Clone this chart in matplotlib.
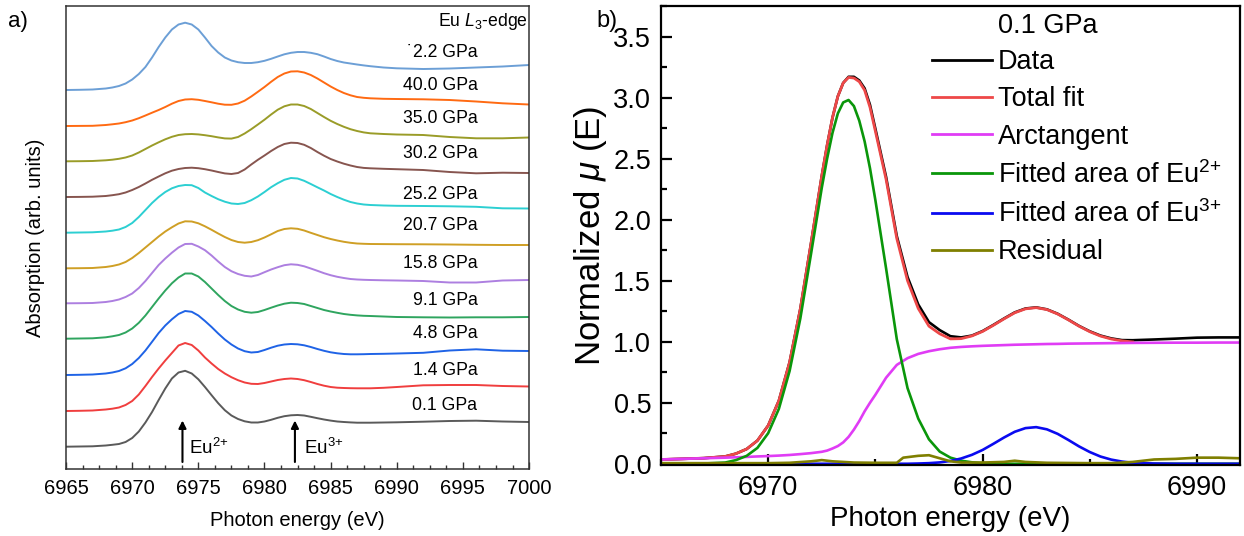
import matplotlib
matplotlib.use('Agg')
import matplotlib.pyplot as plt
from matplotlib.ticker import MultipleLocator

plt.rcParams['font.family'] = ['Liberation Sans', 'DejaVu Sans']
plt.rcParams['mathtext.fontset'] = 'custom'
plt.rcParams['mathtext.rm'] = 'Liberation Sans'
plt.rcParams['mathtext.it'] = 'Liberation Sans:italic'

# ---- panel a: stacked Eu L3-edge spectra (arb. units, offsets included) ----
energy_a = [6965, 6966, 6967, 6968, 6968.5, 6969, 6969.5, 6970, 6970.5, 6971,
            6971.5, 6972, 6972.5, 6973, 6973.5, 6974, 6974.5, 6975, 6975.5, 6976,
            6976.5, 6977, 6977.5, 6978, 6978.5, 6979, 6979.5, 6980, 6980.5, 6981,
            6981.5, 6982, 6982.5, 6983, 6983.5, 6984, 6984.5, 6985, 6985.5, 6986,
            6986.5, 6987, 6987.5, 6988, 6989, 6990, 6992, 6994, 6996, 6998,
            7000]

mu_0p1 = [2.23, 2.25, 2.27, 2.35, 2.42, 2.5, 2.7, 3.1, 3.75, 4.65,
          5.7, 6.9, 8.05, 9.05, 9.65, 9.82, 9.55, 8.97, 8.2, 7.38,
          6.58, 5.88, 5.35, 5.0, 4.77, 4.65, 4.65, 4.75, 4.92, 5.12,
          5.28, 5.37, 5.4, 5.35, 5.22, 5.08, 4.95, 4.84, 4.75, 4.7,
          4.66, 4.63, 4.63, 4.63, 4.65, 4.67, 4.73, 4.8, 4.83, 4.75,
          4.7]
mu_1p4 = [5.8, 5.82, 5.85, 5.95, 6.03, 6.15, 6.4, 6.8, 7.45, 8.3,
          9.2, 10.05, 10.85, 11.6, 12.35, 12.6, 12.4, 11.85, 11.15, 10.55,
          10.0, 9.55, 9.18, 8.88, 8.65, 8.52, 8.5, 8.6, 8.75, 8.9,
          9.0, 9.05, 9.0, 8.88, 8.7, 8.5, 8.33, 8.2, 8.13, 8.1,
          8.08, 8.07, 8.07, 8.07, 8.12, 8.2, 8.37, 8.4, 8.4, 8.3,
          8.25]
mu_4p8 = [9.4, 9.42, 9.45, 9.55, 9.65, 9.8, 10.07, 10.5, 11.1, 11.85,
          12.72, 13.6, 14.35, 14.97, 15.5, 15.8, 15.72, 15.35, 14.8, 14.2,
          13.55, 12.95, 12.45, 12.05, 11.78, 11.65, 11.7, 11.9, 12.13, 12.33,
          12.45, 12.5, 12.47, 12.37, 12.2, 12.0, 11.82, 11.67, 11.57, 11.5,
          11.47, 11.47, 11.48, 11.5, 11.52, 11.55, 11.62, 11.85, 11.97, 11.83,
          11.8]
mu_9p1 = [13.03, 13.05, 13.07, 13.17, 13.27, 13.4, 13.65, 14.05, 14.62, 15.35,
          16.2, 17.05, 17.85, 18.57, 19.15, 19.55, 19.55, 19.25, 18.7, 18.05,
          17.4, 16.8, 16.3, 15.95, 15.72, 15.63, 15.7, 15.9, 16.13, 16.35,
          16.53, 16.63, 16.6, 16.5, 16.3, 16.1, 15.9, 15.75, 15.62, 15.5,
          15.42, 15.36, 15.32, 15.3, 15.25, 15.2, 15.17, 15.15, 15.17, 15.17,
          15.2]
mu_15p8 = [16.57, 16.58, 16.6, 16.7, 16.8, 16.95, 17.2, 17.55, 18.1, 18.8,
           19.6, 20.4, 21.05, 21.63, 22.15, 22.5, 22.52, 22.25, 21.88, 21.35,
           20.75, 20.2, 19.78, 19.5, 19.32, 19.25, 19.4, 19.68, 19.95, 20.18,
           20.38, 20.47, 20.42, 20.27, 20.05, 19.82, 19.58, 19.38, 19.22, 19.1,
           19.0, 18.95, 18.92, 18.9, 18.87, 18.85, 18.8, 18.65, 18.65, 18.85,
           18.9]
mu_20p7 = [20.07, 20.08, 20.1, 20.2, 20.3, 20.45, 20.7, 21.1, 21.6, 22.15,
           22.7, 23.25, 23.75, 24.17, 24.55, 24.77, 24.75, 24.57, 24.27, 23.92,
           23.55, 23.2, 22.9, 22.7, 22.63, 22.7, 22.88, 23.15, 23.47, 23.8,
           24.0, 24.07, 24.02, 23.85, 23.62, 23.4, 23.18, 23.0, 22.85, 22.72,
           22.62, 22.55, 22.52, 22.5, 22.49, 22.48, 22.47, 22.45, 22.42, 22.4,
           22.4]
mu_25p2 = [23.63, 23.65, 23.67, 23.75, 23.83, 23.95, 24.2, 24.6, 25.2, 25.9,
           26.6, 27.2, 27.7, 28.07, 28.3, 28.4, 28.38, 28.1, 27.65, 27.3,
           26.98, 26.73, 26.55, 26.5, 26.6, 26.88, 27.25, 27.7, 28.18, 28.58,
           28.92, 29.1, 29.05, 28.82, 28.5, 28.17, 27.85, 27.5, 27.2, 26.93,
           26.7, 26.55, 26.45, 26.4, 26.35, 26.32, 26.3, 26.27, 26.22, 26.07,
           26.05]
mu_30p2 = [27.2, 27.21, 27.23, 27.3, 27.38, 27.48, 27.65, 27.9, 28.2, 28.55,
           28.92, 29.25, 29.57, 29.83, 30.0, 30.1, 30.13, 30.08, 29.98, 29.85,
           29.7, 29.56, 29.5, 29.6, 29.95, 30.45, 30.92, 31.35, 31.8, 32.2,
           32.5, 32.63, 32.6, 32.42, 32.1, 31.7, 31.33, 31.0, 30.75, 30.53,
           30.35, 30.2, 30.11, 30.07, 30.02, 29.98, 29.9, 29.7, 29.57, 29.63,
           29.6]
mu_35p0 = [30.77, 30.78, 30.8, 30.87, 30.93, 31.02, 31.15, 31.35, 31.65, 32.0,
           32.35, 32.67, 32.97, 33.22, 33.4, 33.48, 33.5, 33.46, 33.38, 33.28,
           33.16, 33.06, 33.04, 33.2, 33.55, 33.98, 34.45, 34.93, 35.45, 35.93,
           36.27, 36.45, 36.45, 36.3, 36.0, 35.6, 35.2, 34.82, 34.5, 34.22,
           33.98, 33.8, 33.66, 33.57, 33.5, 33.45, 33.4, 33.2, 33.07, 33.07,
           33.15]
mu_40p0 = [34.3, 34.31, 34.32, 34.4, 34.47, 34.55, 34.68, 34.85, 35.08, 35.35,
           35.63, 35.9, 36.2, 36.53, 36.8, 36.95, 36.98, 36.92, 36.8, 36.67,
           36.53, 36.43, 36.42, 36.55, 36.83, 37.25, 37.72, 38.2, 38.72, 39.2,
           39.55, 39.75, 39.77, 39.65, 39.4, 39.05, 38.65, 38.25, 37.9, 37.6,
           37.37, 37.2, 37.12, 37.07, 37.02, 37.0, 36.97, 36.9, 36.75, 36.57,
           36.45]
mu_42p2 = [37.9, 37.92, 37.95, 38.05, 38.15, 38.3, 38.55, 38.95, 39.5, 40.2,
           41.15, 42.2, 43.15, 43.95, 44.45, 44.63, 44.45, 43.95, 43.15, 42.3,
           41.65, 41.15, 40.85, 40.68, 40.6, 40.6, 40.68, 40.82, 41.02, 41.25,
           41.47, 41.62, 41.7, 41.7, 41.62, 41.48, 41.25, 41.0, 40.8, 40.65,
           40.55, 40.45, 40.36, 40.28, 40.15, 40.07, 40.0, 40.05, 40.15, 40.25,
           40.4]

spectra = [mu_0p1, mu_1p4, mu_4p8, mu_9p1, mu_15p8, mu_20p7,
           mu_25p2, mu_30p2, mu_35p0, mu_40p0, mu_42p2]
pressure_labels = ['0.1 GPa', '1.4 GPa', '4.8 GPa', '9.1 GPa', '15.8 GPa',
                   '20.7 GPa', '25.2 GPa', '30.2 GPa', '35.0 GPa', '40.0 GPa',
                   '\u02d92.2 GPa']
label_levels = [6.4, 9.9, 13.57, 16.9, 20.57, 24.4, 27.5, 31.6, 35.1, 38.4, 41.7]
spectra_colors = ['#5a5a5a', '#f03e3e', '#1f63e6', '#2fa55f', '#ad7fe0',
                  '#cf9f25', '#2ccfd2', '#87554f', '#9a9c28', '#ff6a12',
                  '#6c9fd6']

# ---- panel b: fit of the 0.1 GPa spectrum ----
energy_b = [6965, 6966, 6967, 6968, 6968.5, 6969, 6969.5, 6970, 6970.5, 6971,
            6971.5, 6972, 6972.5, 6972.75, 6973, 6973.25, 6973.5, 6973.75, 6974, 6974.25,
            6974.5, 6974.75, 6975, 6975.5, 6976, 6976.5, 6977, 6977.5, 6978, 6978.5,
            6979, 6979.5, 6980, 6980.5, 6981, 6981.5, 6982, 6982.5, 6983, 6983.5,
            6984, 6984.5, 6985, 6985.5, 6986, 6986.5, 6987, 6988, 6989, 6990,
            6991, 6992]
data_mu = [0.035, 0.04, 0.046, 0.06, 0.083, 0.121, 0.19, 0.313, 0.517, 0.832,
           1.269, 1.807, 2.358, 2.61, 2.835, 3.01, 3.12, 3.17, 3.17, 3.14,
           3.075, 2.94, 2.745, 2.35, 1.865, 1.53, 1.305, 1.16, 1.095, 1.045,
           1.035, 1.05, 1.087, 1.137, 1.19, 1.24, 1.272, 1.281, 1.265, 1.229,
           1.181, 1.129, 1.085, 1.05, 1.027, 1.013, 1.012, 1.018, 1.025, 1.033,
           1.035, 1.035]
total_fit = [0.035, 0.04, 0.046, 0.06, 0.083, 0.121, 0.19, 0.313, 0.517, 0.832,
             1.269, 1.807, 2.358, 2.61, 2.835, 3.01, 3.12, 3.165, 3.16, 3.13,
             3.06, 2.92, 2.725, 2.33, 1.845, 1.50, 1.272, 1.127, 1.065, 1.023,
             1.025, 1.047, 1.084, 1.134, 1.187, 1.237, 1.269, 1.279, 1.263, 1.227,
             1.179, 1.127, 1.082, 1.046, 1.022, 1.007, 0.998]
arctangent = [0.035, 0.04, 0.045, 0.05, 0.053, 0.056, 0.06, 0.063, 0.067, 0.072,
              0.079, 0.087, 0.098, 0.108, 0.125, 0.145, 0.175, 0.22, 0.28, 0.35,
              0.43, 0.50, 0.565, 0.705, 0.81, 0.865, 0.9, 0.922, 0.938, 0.95,
              0.957, 0.962, 0.966, 0.969, 0.972, 0.975, 0.977, 0.979, 0.981, 0.982,
              0.984, 0.985, 0.986, 0.987, 0.988, 0.989, 0.99, 0.991, 0.992, 0.992,
              0.993, 0.993]
eu2_area = [0, 0, 0.002, 0.01, 0.03, 0.065, 0.13, 0.25, 0.45, 0.76,
            1.19, 1.72, 2.26, 2.50, 2.71, 2.87, 2.96, 2.98, 2.93, 2.81,
            2.64, 2.42, 2.16, 1.60, 1.02, 0.62, 0.37, 0.20, 0.10, 0.05,
            0.025, 0.012, 0.005, 0.002, 0, 0, 0, 0, 0, 0,
            0, 0, 0, 0, 0, 0, 0, 0, 0, 0,
            0, 0]
eu3_area = [0, 0, 0, 0, 0, 0, 0, 0, 0, 0,
            0, 0, 0, 0, 0, 0, 0, 0, 0, 0,
            0, 0, 0, 0, 0, 0, 0.002, 0.005, 0.011, 0.023,
            0.043, 0.073, 0.113, 0.163, 0.215, 0.262, 0.292, 0.300, 0.282, 0.245,
            0.195, 0.142, 0.096, 0.059, 0.034, 0.018, 0.008, 0.002, 0, 0,
            0, 0]
residual_e = [6965, 6968, 6970, 6971, 6972, 6972.5, 6973, 6974, 6975, 6976,
              6976.3, 6977, 6977.5, 6978, 6978.5, 6979, 6980, 6981, 6981.5, 6982,
              6983, 6985, 6986, 6987, 6988, 6989, 6990, 6991, 6992]
residual = [0.005, 0.005, 0.005, 0.008, 0.02, 0.03, 0.02, 0.01, 0.008, 0.008,
            0.05, 0.065, 0.07, 0.045, 0.02, 0.01, 0.01, 0.015, 0.025, 0.015,
            0.008, 0.005, 0.005, 0.015, 0.035, 0.04, 0.05, 0.05, 0.045]


def main():
    fig = plt.figure(figsize=(12.44, 5.36), dpi=100)

    # ---------------- panel a ----------------
    ax = fig.add_axes([0.0531, 0.125, 0.3722, 0.8638])
    for mu, c in zip(spectra, spectra_colors):
        ax.plot(energy_a, mu, color=c, lw=1.4)
    for lab, lev in zip(pressure_labels, label_levels):
        ax.text(6996.1, lev, lab, ha='right', va='center', fontsize=12.7)
    ax.text(6999.9, 44.75, r'Eu $L_3$-edge', ha='right', va='center', fontsize=12.7)

    for e_arrow, e_text, lab in [(6973.8, 6974.3, r'Eu$^{2{+}}$'),
                                 (6982.3, 6983.0, r'Eu$^{3{+}}$')]:
        ax.annotate('', xy=(e_arrow, 4.85), xytext=(e_arrow, 0.7),
                    arrowprops=dict(arrowstyle='-|>', color='black', lw=1.5,
                                    mutation_scale=11, shrinkA=0, shrinkB=0))
        ax.text(e_text, 2.1, lab, ha='left', va='center', fontsize=13.5)

    ax.set_xlim(6965, 7000)
    ax.set_ylim(0, 46.3)
    ax.set_yticks([])
    ax.xaxis.set_major_locator(MultipleLocator(5))
    ax.xaxis.set_minor_locator(MultipleLocator(1.25))
    ax.tick_params(axis='x', which='both', direction='in', labelsize=14.5, pad=7,
                   color='#333333')
    ax.tick_params(axis='x', which='major', length=5, width=1)
    ax.tick_params(axis='x', which='minor', length=3, width=1)
    for s in ax.spines.values():
        s.set_color('#333333')
        s.set_linewidth(1.1)
    ax.set_xlabel('Photon energy (eV)', fontsize=14.5, va='top')
    ax.xaxis.set_label_coords(0.5, -0.09)
    ax.set_ylabel('Absorption (arb. units)', fontsize=14.5)
    ax.yaxis.set_label_coords(-0.045, 0.5)

    # ---------------- panel b ----------------
    bx = fig.add_axes([0.5313, 0.1325, 0.4654, 0.8563])
    bx.plot(energy_b, data_mu, color='black', lw=1.9, label='Data')
    bx.plot(energy_b[:len(total_fit)], total_fit, color='#ee4848', lw=2.0,
            label='Total fit')
    bx.plot(energy_b, arctangent, color='#e03cf5', lw=1.9, label='Arctangent')
    bx.plot(energy_b, eu2_area, color='#0a960a', lw=1.9,
            label=r'Fitted area of Eu$^{2{+}}$')
    bx.plot(energy_b, eu3_area, color='#0a0af0', lw=1.9,
            label=r'Fitted area of Eu$^{3{+}}$')
    bx.plot(residual_e, residual, color='#7f7f00', lw=1.9, label='Residual')

    bx.set_xlim(6965, 6992)
    bx.set_ylim(-0.01, 3.75)
    bx.xaxis.set_major_locator(MultipleLocator(10))
    bx.xaxis.set_minor_locator(MultipleLocator(5))
    bx.yaxis.set_major_locator(MultipleLocator(0.5))
    bx.yaxis.set_minor_locator(MultipleLocator(0.25))
    bx.tick_params(which='both', direction='in', labelsize=19.5, pad=7)
    bx.tick_params(which='major', length=8, width=1.6)
    bx.tick_params(which='minor', length=4.5, width=1.6)
    for s in bx.spines.values():
        s.set_linewidth(1.6)
    bx.set_xlabel('Photon energy (eV)', fontsize=20, va='top')
    bx.xaxis.set_label_coords(0.5, -0.09)
    bx.set_ylabel(r'Normalized $\mu$ (E)', fontsize=25)
    bx.yaxis.set_label_coords(-0.09, 0.5)

    bx.text(6980.73, 3.59, '0.1 GPa', ha='left', va='center', fontsize=19.5)
    leg = bx.legend(loc='upper left', bbox_to_anchor=(932 / 1244, 1 - 49 / 536),
                    bbox_transform=fig.transFigure, frameon=False,
                    prop={'size': 19.5}, handlelength=2.2,
                    handletextpad=0.22, labelspacing=0.42, borderpad=0,
                    borderaxespad=0)
    for line in leg.get_lines():
        line.set_linewidth(2.0)

    fig.text(8 / 1244, 1 - 21 / 536, 'a)', fontsize=16, va='center')
    fig.text(596 / 1244, 1 - 21 / 536, 'b)', fontsize=17, va='center')

    fig.savefig('out.png', dpi=100)


if __name__ == '__main__':
    main()
